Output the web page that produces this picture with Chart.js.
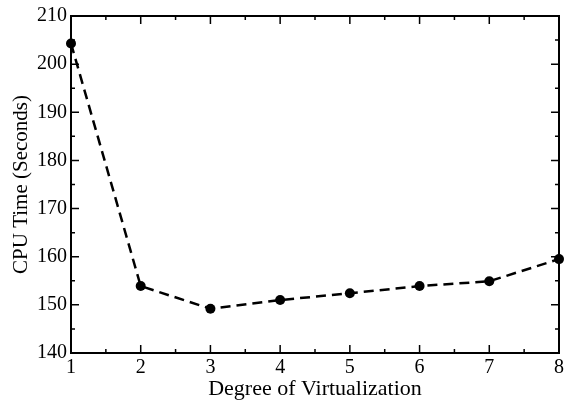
<!DOCTYPE html>
<html lang="en">
<head>
  <meta charset="UTF-8" />
  <title>CPU Time vs Degree of Virtualization</title>
  <script src="https://cdn.jsdelivr.net/npm/chart.js"></script>
  <style>
    html, body { margin: 0; padding: 0; background: #fff; }
    .wrap { width: 564px; height: 402px; }
  </style>
</head>
<body>
  <div class="wrap"><canvas id="chart" width="564" height="402"></canvas></div>
  <script>
    // data
    const degrees = [1, 2, 3, 4, 5, 6, 7, 8];
    const cpuTime = [204.3, 153.9, 149.2, 151.0, 152.4, 153.9, 154.9, 159.5];
    const xMajor = [1, 2, 3, 4, 5, 6, 7, 8];
    const yMajor = [140, 150, 160, 170, 180, 190, 200, 210];

    const serif = "'Liberation Serif', 'DejaVu Serif', serif";

    // inward ticks on all four sides + frame
    const frameTicks = {
      id: "frameTicks",
      afterDraw(chart) {
        const { ctx, chartArea: a, scales } = chart;
        const x = scales.x, y = scales.y;
        ctx.save();
        ctx.strokeStyle = "#000";
        ctx.lineWidth = 2;
        ctx.strokeRect(a.left, a.top, a.right - a.left, a.bottom - a.top);
        ctx.lineWidth = 1.5;
        ctx.beginPath();
        for (let i = 0; i < xMajor.length; i++) {
          const px = x.getPixelForValue(xMajor[i]);
          ctx.moveTo(px, a.bottom); ctx.lineTo(px, a.bottom - 8);
          ctx.moveTo(px, a.top); ctx.lineTo(px, a.top + 8);
          if (i < xMajor.length - 1) {
            const mx = x.getPixelForValue((xMajor[i] + xMajor[i + 1]) / 2);
            ctx.moveTo(mx, a.bottom); ctx.lineTo(mx, a.bottom - 4);
            ctx.moveTo(mx, a.top); ctx.lineTo(mx, a.top + 4);
          }
        }
        for (let i = 0; i < yMajor.length; i++) {
          const py = y.getPixelForValue(yMajor[i]);
          ctx.moveTo(a.left, py); ctx.lineTo(a.left + 8, py);
          ctx.moveTo(a.right, py); ctx.lineTo(a.right - 8, py);
          if (i < yMajor.length - 1) {
            const my = y.getPixelForValue((yMajor[i] + yMajor[i + 1]) / 2);
            ctx.moveTo(a.left, my); ctx.lineTo(a.left + 4, my);
            ctx.moveTo(a.right, my); ctx.lineTo(a.right - 4, my);
          }
        }
        ctx.stroke();
        ctx.restore();
      }
    };

    new Chart(document.getElementById("chart"), {
      type: "line",
      data: {
        labels: degrees,
        datasets: [{
          data: degrees.map((d, i) => ({ x: d, y: cpuTime[i] })),
          borderColor: "#000",
          backgroundColor: "#000",
          borderWidth: 2.5,
          borderDash: [10, 6],
          pointRadius: 5,
          pointBackgroundColor: "#000",
          pointBorderWidth: 0,
          tension: 0,
          clip: false
        }]
      },
      options: {
        responsive: false,
        animation: false,
        layout: { padding: { top: 11, right: 2, left: 0, bottom: 0 } },
        plugins: { legend: { display: false }, tooltip: { enabled: false } },
        scales: {
          x: {
            type: "linear",
            min: 1, max: 8,
            grid: { display: false, drawTicks: false },
            border: { display: false },
            ticks: {
              stepSize: 1, color: "#000", padding: 3,
              font: { family: serif, size: 20 }
            },
            title: {
              display: true, text: "Degree of Virtualization", color: "#000",
              font: { family: serif, size: 22 }, padding: { top: -5, bottom: 0 }
            },
            afterFit(s) { s.height = 49; s.paddingRight = 0; s.paddingLeft = 0; }
          },
          y: {
            min: 140, max: 210,
            grid: { display: false, drawTicks: false },
            border: { display: false },
            ticks: {
              stepSize: 10, color: "#000", padding: 4,
              font: { family: serif, size: 20 }
            },
            title: {
              display: true, text: "CPU Time (Seconds)", color: "#000",
              font: { family: serif, size: 21 }, padding: { top: 9, bottom: 0 }
            },
            afterFit(s) { s.width = 71; }
          }
        }
      },
      plugins: [frameTicks]
    });
  </script>
</body>
</html>
